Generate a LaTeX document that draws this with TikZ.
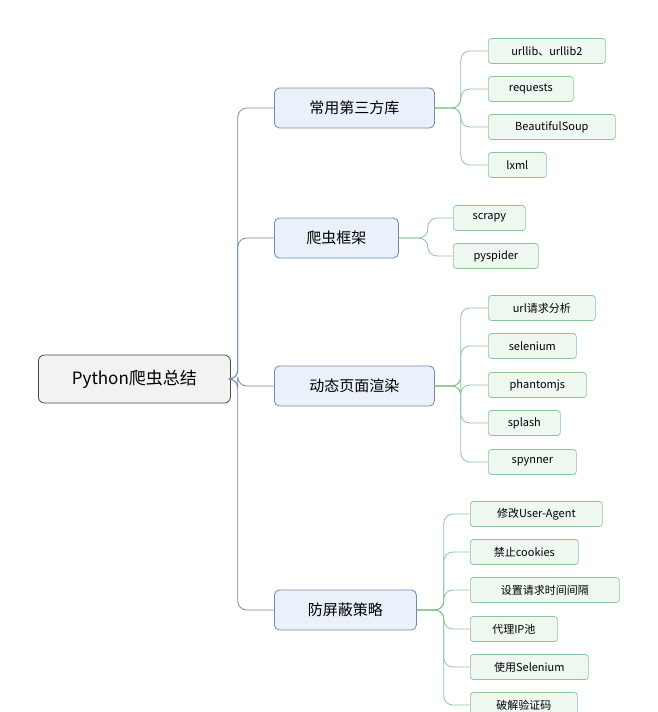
\documentclass[tikz,border=0pt]{standalone}
\usepackage{fontspec}
\setmainfont{Noto Sans CJK SC}
\definecolor{rootfill}{HTML}{F2F2F2}
\definecolor{rootline}{HTML}{4A4A4A}
\definecolor{topfill}{HTML}{EAF1FA}
\definecolor{topline}{HTML}{6F8BAF}
\definecolor{leaffill}{HTML}{EFF8F0}
\definecolor{leafline}{HTML}{8CC596}
\begin{document}
\begin{tikzpicture}[x=1pt,y=-1pt,
  rootbox/.style={draw=rootline,fill=rootfill,rounded corners=6,minimum height=48,
    anchor=west,font=\fontsize{17}{20}\selectfont,line width=0.8pt},
  topbox/.style={draw=topline,fill=topfill,rounded corners=5,minimum height=40,
    anchor=west,font=\fontsize{15}{18}\selectfont,line width=0.8pt},
  leafbox/.style={draw=leafline,fill=leaffill,rounded corners=3,minimum height=25,
    anchor=west,font=\fontsize{11}{13}\selectfont,line width=0.7pt},
  link/.style={draw=topline,line width=0.8pt,rounded corners=9,
    to path={-- ++(#1,0) |- (\tikztotarget)}},
  twig/.style={draw=leafline,line width=0.8pt,rounded corners=9,
    to path={-- ++(#1,0) |- (\tikztotarget)}}]
\useasboundingbox (0,0) rectangle (658,712);
\node[rootbox,minimum width=192] (root) at (38,379) {Python爬虫总结};
\node[topbox,minimum width=160] (libs) at (274,108) {常用第三方库};
\node[topbox,minimum width=124] (frame) at (274,238) {爬虫框架};
\node[topbox,minimum width=160] (render) at (274,386) {动态页面渲染};
\node[topbox,minimum width=142] (block) at (274,610) {防屏蔽策略};
% libs
\node[leafbox,minimum width=117] (urllib) at (488,51) {urllib、urllib2};
\node[leafbox,minimum width=85] (requests) at (488,89) {requests};
\node[leafbox,minimum width=127] (bs) at (488,127) {BeautifulSoup};
\node[leafbox,minimum width=58] (lxml) at (488,165) {lxml};
% frame
\node[leafbox,minimum width=72] (scrapy) at (453,218) {scrapy};
\node[leafbox,minimum width=85] (pyspider) at (453,256) {pyspider};
% render
\node[leafbox,minimum width=107] (urlreq) at (488,308) {url请求分析};
\node[leafbox,minimum width=88] (selenium) at (488,346) {selenium};
\node[leafbox,minimum width=98] (phantom) at (488,385) {phantomjs};
\node[leafbox,minimum width=72] (splash) at (488,423) {splash};
\node[leafbox,minimum width=88] (spynner) at (488,462) {spynner};
% block
\node[leafbox,minimum width=132] (agent) at (470,514) {修改User-Agent};
\node[leafbox,minimum width=108] (cookies) at (470,552) {禁止cookies};
\node[leafbox,minimum width=149] (interval) at (470,590) {设置请求时间间隔};
\node[leafbox,minimum width=87] (proxy) at (470,629) {代理IP池};
\node[leafbox,minimum width=118] (usesel) at (470,667) {使用Selenium};
\node[leafbox,minimum width=107] (captcha) at (470,705) {破解验证码};

\foreach \t in {libs,frame,render,block}
  \draw[link=7] (root.east) to (\t.west);
\foreach \t in {urllib,requests,bs,lxml}
  \draw[twig=26] (libs.east) to (\t.west);
\foreach \t in {scrapy,pyspider}
  \draw[twig=29] (frame.east) to (\t.west);
\foreach \t in {urlreq,selenium,phantom,splash,spynner}
  \draw[twig=26] (render.east) to (\t.west);
\foreach \t in {agent,cookies,interval,proxy,usesel,captcha}
  \draw[twig=27] (block.east) to (\t.west);
\end{tikzpicture}
\end{document}
